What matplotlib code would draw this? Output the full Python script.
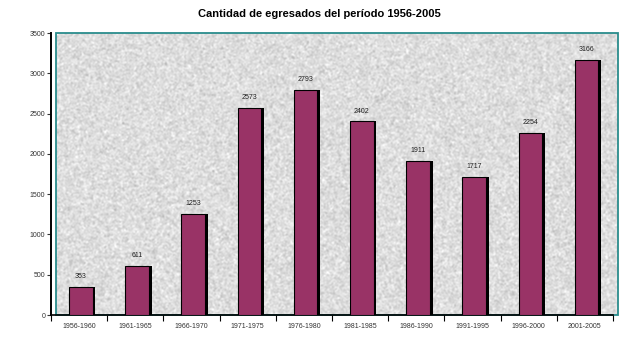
import numpy as np
import matplotlib
matplotlib.use("Agg")
import matplotlib.pyplot as plt
from matplotlib.patches import Rectangle

periodos = ["1956-1960", "1961-1965", "1966-1970", "1971-1975", "1976-1980",
            "1981-1985", "1986-1990", "1991-1995", "1996-2000", "2001-2005"]
egresados = [353, 611, 1253, 2573, 2793, 2402, 1911, 1717, 2254, 3166]

plt.rcParams["font.family"] = ["Liberation Sans", "DejaVu Sans"]

fig = plt.figure(figsize=(6.39, 3.54), dpi=100)
ax = fig.add_axes([51/639, 1-315/354, (618-51)/639, (315-33)/354])

n = len(periodos)
x0, x1 = -0.5, -0.5 + (618-51)/56.2
ax.set_xlim(x0, x1)
ax.set_ylim(0, 3500)

# fondo texturado (solo decorativo)
rng = np.random.default_rng(3)
tex = rng.normal(0, 1, (282, 562))
k = np.array([0.25, 0.5, 0.25])
tex = np.apply_along_axis(lambda r: np.convolve(r, k, mode="same"), 1, tex)
tex = np.apply_along_axis(lambda c: np.convolve(c, k, mode="same"), 0, tex)
ax.imshow(tex, cmap="gray_r", vmin=-1.5, vmax=3.6, extent=(-0.41, x1, 0, 3500),
          aspect="auto", zorder=0, interpolation="nearest", alpha=0.45)
ax.add_patch(Rectangle((-0.41, 0), x1 + 0.41, 3500, fill=False,
                       edgecolor="#2a8c8c", lw=1.3, zorder=1, clip_on=False))

xs = np.arange(n) + 0.03
ax.bar(xs + 0.05, egresados, width=0.42, color="black", zorder=2)
ax.bar(xs, egresados, width=0.42, color="#993366", edgecolor="black", lw=0.8, zorder=3)
for x, v in zip(xs, egresados):
    ax.annotate(str(v), (x, v), xytext=(0, 5), textcoords="offset points",
                ha="center", va="bottom", fontsize=5, color="#222222")

for s in ["top", "right"]:
    ax.spines[s].set_visible(False)
ax.spines["left"].set_linewidth(1.4)
ax.spines["bottom"].set_linewidth(1.2)
ax.spines["bottom"].set_bounds(-0.5, n - 0.5)

ax.set_yticks(range(0, 3501, 500))
ax.tick_params(axis="y", labelsize=5, length=3, width=0.8, pad=1, colors="#333333")
ax.set_xticks(np.arange(n + 1) - 0.5)
ax.set_xticklabels([])
ax.set_xticks(np.arange(n), minor=True)
ax.set_xticklabels(periodos, minor=True)
ax.tick_params(axis="x", which="major", length=4, width=0.8)
ax.tick_params(axis="x", which="minor", length=0, labelsize=5, pad=6, colors="#333333")

fig.text(0.5, 1-14/354, "Cantidad de egresados del período 1956-2005",
         ha="center", va="center", fontsize=8, fontweight="bold")

fig.savefig("out.png", dpi=100)
